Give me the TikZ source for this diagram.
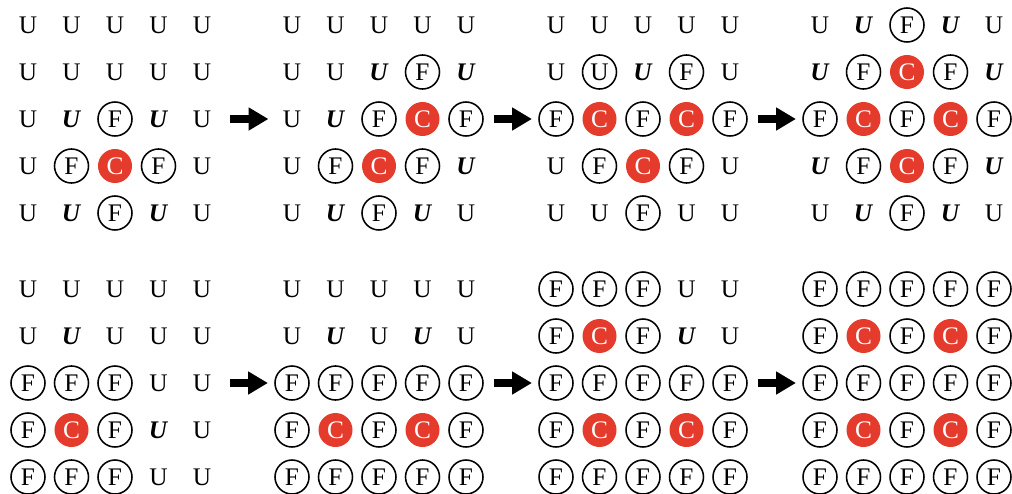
\documentclass[tikz,border=0pt]{standalone}
\usepackage{fontspec}
\setmainfont{Liberation Serif}
\usetikzlibrary{arrows.meta}
\definecolor{cellRed}{HTML}{E53B2C}
\newcommand\txtu{U}
\newcommand\txti{\textbf{\textit{U}}}
\newcommand\txto{U}
\newcommand\txtf{F}
\newcommand\txtc{C}

\begin{document}
\begin{tikzpicture}[
    x=0.025cm, y=-0.025cm,
    cell/.style={circle, minimum size=0.85cm, inner sep=0pt,
                 font=\fontsize{18}{21}\selectfont},
    cell-u/.style={cell},
    cell-i/.style={cell},
    cell-o/.style={cell, draw, line width=1.1pt},
    cell-f/.style={cell, draw, line width=1.1pt},
    cell-c/.style={cell, fill=cellRed, text=white},
    bigarrow/.style={-{Triangle[length=14pt, width=15.5pt]}, line width=5.7pt,
                     shorten <=7.5pt, shorten >=4.5pt}
  ]
    \useasboundingbox (0,0) rectangle (1012,493);
    % u = U, i = bold italic U, o = circled U, f = circled F, c = red C
    \foreach \g/\gx/\gy/\cells in {
      1/28/25/{{u,u,u,u,u},{u,u,u,u,u},{u,i,f,i,u},{u,f,c,f,u},{u,i,f,i,u}},
      2/292/25/{{u,u,u,u,u},{u,u,i,f,i},{u,i,f,c,f},{u,f,c,f,i},{u,i,f,i,u}},
      3/556/25/{{u,u,u,u,u},{u,o,i,f,u},{f,c,f,c,f},{u,f,c,f,u},{u,u,f,u,u}},
      4/820/25/{{u,i,f,i,u},{i,f,c,f,i},{f,c,f,c,f},{i,f,c,f,i},{u,i,f,i,u}},
      5/28/289/{{u,u,u,u,u},{u,i,u,u,u},{f,f,f,u,u},{f,c,f,i,u},{f,f,f,u,u}},
      6/292/289/{{u,u,u,u,u},{u,i,u,i,u},{f,f,f,f,f},{f,c,f,c,f},{f,f,f,f,f}},
      7/556/289/{{f,f,f,u,u},{f,c,f,i,u},{f,f,f,f,f},{f,c,f,c,f},{f,f,f,f,f}},
      8/820/289/{{f,f,f,f,f},{f,c,f,c,f},{f,f,f,f,f},{f,c,f,c,f},{f,f,f,f,f}}}
    {
      \foreach [count=\r] \row in \cells {
        \foreach [count=\c] \t in \row {
          \node[cell-\t] (g\g-\r-\c) at ({\gx+43.5*(\c-1)}, {\gy+47*(\r-1)})
            {\csname txt\t\endcsname};
        }
      }
    }
    \draw[bigarrow] (g1-3-5) -- (g2-3-1);
    \draw[bigarrow] (g2-3-5) -- (g3-3-1);
    \draw[bigarrow] (g3-3-5) -- (g4-3-1);
    \draw[bigarrow] (g5-3-5) -- (g6-3-1);
    \draw[bigarrow] (g6-3-5) -- (g7-3-1);
    \draw[bigarrow] (g7-3-5) -- (g8-3-1);
  \end{tikzpicture}
\end{document}
